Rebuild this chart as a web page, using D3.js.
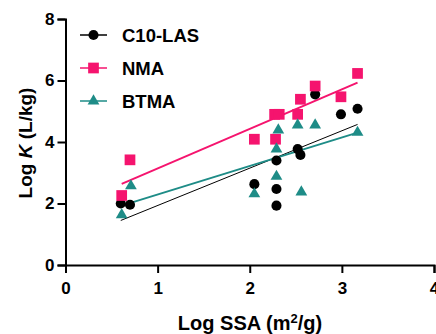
<!DOCTYPE html>
<html>
<head>
<meta charset="utf-8">
<script src="https://cdn.jsdelivr.net/npm/d3@7"></script>
<style>
  body { margin: 0; background: #fff; }
  text { font-family: "Liberation Sans", Arial, sans-serif; font-weight: bold; }
</style>
</head>
<body>
<div id="chart"></div>
<script>
// data (log SSA, log K)
const seriesNames = ['C10-LAS', 'NMA', 'BTMA'];
const lasX = [0.60, 0.70, 2.05, 2.29, 2.29, 2.29, 2.52, 2.55, 2.71, 2.99, 3.17];
const lasY = [2.00, 1.96, 2.63, 2.47, 1.93, 3.40, 3.77, 3.58, 5.55, 4.90, 5.08];
const nmaX = [0.61, 0.70, 2.05, 2.28, 2.27, 2.32, 2.52, 2.55, 2.71, 2.99, 3.17];
const nmaY = [2.26, 3.42, 4.09, 4.09, 4.90, 4.90, 4.90, 5.39, 5.82, 5.47, 6.23];
const btmaX = [0.61, 0.71, 2.05, 2.29, 2.29, 2.31, 2.52, 2.71, 2.56, 3.17];
const btmaY = [1.63, 2.57, 2.31, 2.88, 3.77, 4.39, 4.55, 4.55, 2.37, 4.31];
const xTicks = [0, 1, 2, 3, 4];
const yTicks = [0, 2, 4, 6, 8];

const W = 436, H = 334;
const margin = { top: 19, right: 2, bottom: 69, left: 65.5 };
const colors = { 'C10-LAS': '#000000', 'NMA': '#f5146e', 'BTMA': '#1e8c87' };

const series = [
  { name: 'C10-LAS', xs: lasX, ys: lasY, shape: d3.symbolCircle, size: 80, lw: 1 },
  { name: 'NMA', xs: nmaX, ys: nmaY, shape: d3.symbolSquare, size: 115, lw: 2 },
  { name: 'BTMA', xs: btmaX, ys: btmaY, shape: d3.symbolTriangle, size: 60, lw: 2 }
];

const svg = d3.select('#chart').append('svg')
  .attr('width', W).attr('height', H);

const x = d3.scaleLinear().domain([0, 4]).range([margin.left, W - margin.right]);
const y = d3.scaleLinear().domain([0, 8]).range([H - margin.bottom, margin.top]);

// least-squares fit for each series
function fit(xs, ys) {
  const mx = d3.mean(xs), my = d3.mean(ys);
  let sxy = 0, sxx = 0;
  xs.forEach((v, i) => { sxy += (v - mx) * (ys[i] - my); sxx += (v - mx) * (v - mx); });
  const b = sxy / sxx, a = my - b * mx;
  const x0 = d3.min(xs), x1 = d3.max(xs);
  return [[x0, a + b * x0], [x1, a + b * x1]];
}

// axes
const xAxis = svg.append('g')
  .attr('transform', `translate(0,${y(0)})`)
  .call(d3.axisBottom(x).tickValues(xTicks).tickSize(8).tickPadding(9).tickFormat(d3.format('d')));
const yAxis = svg.append('g')
  .attr('transform', `translate(${x(0)},0)`)
  .call(d3.axisLeft(y).tickValues(yTicks).tickSize(8).tickPadding(3).tickFormat(d3.format('d')));
[xAxis, yAxis].forEach(g => {
  g.select('.domain').attr('stroke', '#000').attr('stroke-width', 2);
  g.selectAll('.tick line').attr('stroke', '#000').attr('stroke-width', 2);
  g.selectAll('.tick text').attr('fill', '#000')
    .style('font-size', '17px').style('font-weight', 'bold')
    .style('font-family', '"Liberation Sans", Arial, sans-serif');
});

// regression lines
series.forEach(s => {
  svg.append('path')
    .datum(fit(s.xs, s.ys))
    .attr('fill', 'none')
    .attr('stroke', colors[s.name])
    .attr('stroke-width', s.lw)
    .attr('d', d3.line().x(d => x(d[0])).y(d => y(d[1])));
});

// points
series.forEach(s => {
  svg.append('g').selectAll('path')
    .data(s.xs.map((v, i) => [v, s.ys[i]]))
    .join('path')
    .attr('transform', d => `translate(${x(d[0])},${y(d[1])})`)
    .attr('d', d3.symbol().type(s.shape).size(s.size))
    .attr('fill', colors[s.name]);
});

// legend
const legend = svg.append('g').attr('transform', 'translate(80,35)');
series.forEach((s, i) => {
  const row = legend.append('g').attr('transform', `translate(0,${i * 33})`);
  row.append('line').attr('x1', 0).attr('x2', 27)
    .attr('stroke', colors[s.name]).attr('stroke-width', 1.5);
  row.append('path')
    .attr('transform', 'translate(13.5,0)')
    .attr('d', d3.symbol().type(s.shape).size(s.size))
    .attr('fill', colors[s.name]);
  row.append('text').attr('x', 42).attr('y', 6.5)
    .style('font-size', '18.5px').text(s.name);
});

// axis titles
svg.append('text')
  .attr('x', 250).attr('y', 330)
  .attr('text-anchor', 'middle')
  .style('font-size', '20px')
  .call(t => {
    t.append('tspan').text('Log SSA (m');
    t.append('tspan').attr('dy', -7).style('font-size', '13px').text('2');
    t.append('tspan').attr('dy', 7).text('/g)');
  });

svg.append('text')
  .attr('transform', 'translate(32,143) rotate(-90)')
  .attr('text-anchor', 'middle')
  .style('font-size', '19px')
  .call(t => {
    t.append('tspan').text('Log ');
    t.append('tspan').style('font-style', 'italic').text('K');
    t.append('tspan').text(' (L/kg)');
  });
</script>
</body>
</html>
